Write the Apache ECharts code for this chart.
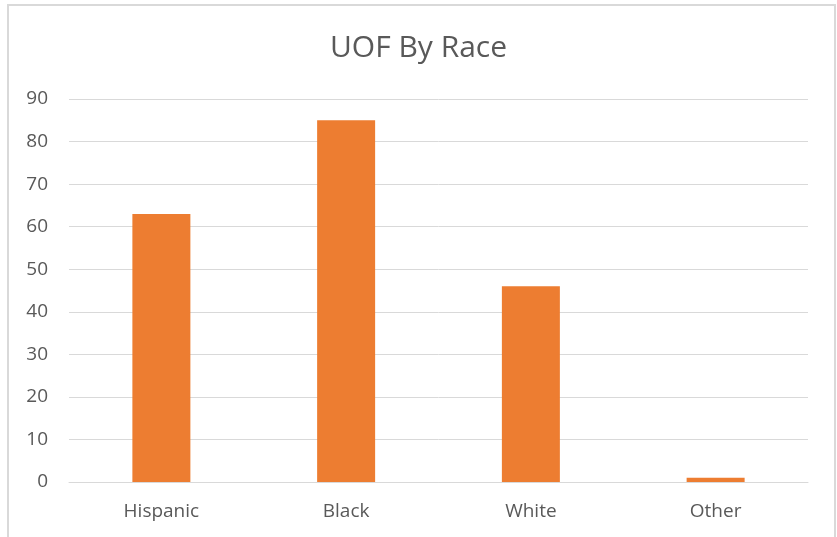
<!DOCTYPE html>
<html>
<head>
<meta charset="utf-8">
<script src="https://cdn.jsdelivr.net/npm/echarts@6/dist/echarts.min.js"></script>
<style>
html,body{margin:0;padding:0;background:#fff;}
#c{width:837px;height:537px;}
</style>
</head>
<body>
<div id="c"></div>
<script>
const categories = ['Hispanic', 'Black', 'White', 'Other'];
const values = [63, 85, 46, 1];
const titleText = 'UOF By Race';

const chart = echarts.init(document.getElementById('c'), null, {renderer: 'canvas'});
const font = '"Open Sans", "Liberation Sans", sans-serif';
chart.setOption({
  animation: false,
  backgroundColor: '#fff',
  title: {
    text: titleText,
    left: 'center',
    top: 28,
    textStyle: {fontFamily: font, fontSize: 30, fontWeight: 'normal', color: '#595959'}
  },
  graphic: [{
    type: 'rect',
    shape: {x: 8, y: 5, width: 827, height: 545},
    style: {fill: 'none', stroke: '#D9D9D9', lineWidth: 2},
    silent: true
  }],
  grid: {left: 69, right: 29, top: 99, bottom: 55, containLabel: false},
  xAxis: {
    type: 'category',
    data: categories,
    axisLine: {show: true, lineStyle: {color: '#D9D9D9', width: 1}},
    axisTick: {show: false},
    axisLabel: {fontFamily: font, fontSize: 19, color: '#595959', margin: 20}
  },
  yAxis: {
    type: 'value',
    min: 0,
    max: 90,
    interval: 10,
    axisLine: {show: false},
    axisTick: {show: false},
    splitLine: {lineStyle: {color: '#D9D9D9', width: 1}},
    axisLabel: {fontFamily: font, fontSize: 19, color: '#595959', margin: 21}
  },
  series: [{
    type: 'bar',
    data: values,
    barWidth: 58,
    itemStyle: {color: '#ED7D31'}
  }]
});
</script>
</body>
</html>
